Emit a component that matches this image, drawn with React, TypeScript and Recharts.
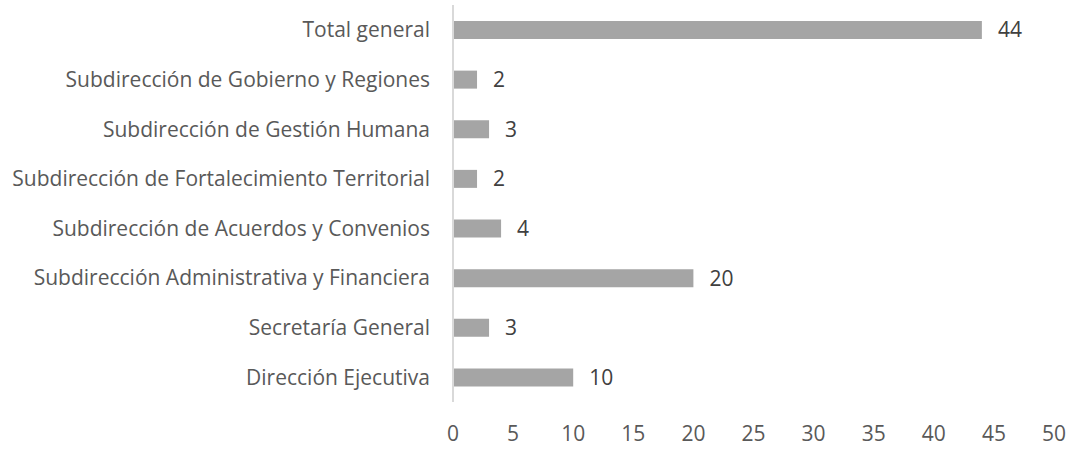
import React from "react";
import { BarChart, Bar, XAxis, YAxis, LabelList } from "recharts";

const categories = [
  "Total general",
  "Subdirección de Gobierno y Regiones",
  "Subdirección de Gestión Humana",
  "Subdirección de Fortalecimiento Territorial",
  "Subdirección de Acuerdos y Convenios",
  "Subdirección Administrativa y Financiera",
  "Secretaría General",
  "Dirección Ejecutiva",
];
const values = [44, 2, 3, 2, 4, 20, 3, 10];
const xTicks = [0, 5, 10, 15, 20, 25, 30, 35, 40, 45, 50];

const data = categories.map((name, i) => ({ name, value: values[i] }));

const FONT = "'Open Sans', sans-serif";

export default function App() {
  return (
    <div style={{ position: "absolute", left: 0, top: 0, background: "#fff" }}>
      <BarChart
        width={1073}
        height={451}
        data={data}
        layout="vertical"
        margin={{ top: 5, right: 19, bottom: 0, left: 0 }}
        barSize={18}
      >
        <XAxis
          type="number"
          domain={[0, 50]}
          ticks={xTicks}
          axisLine={false}
          tickLine={false}
          tickSize={0}
          tickMargin={24}
          height={49}
          interval={0}
          tick={{ fill: "#595959", fontSize: 21, fontFamily: FONT }}
        />
        <YAxis
          type="category"
          dataKey="name"
          width={453}
          axisLine={{ stroke: "#d9d9d9", strokeWidth: 2 }}
          tickLine={false}
          tickSize={0}
          tickMargin={23}
          interval={0}
          tick={{ fill: "#595959", fontSize: 21, fontFamily: FONT }}
        />
        <Bar dataKey="value" fill="#a5a5a5" isAnimationActive={false}>
          <LabelList
            dataKey="value"
            position="right"
            offset={16}
            fill="#404040"
            fontSize={21}
            fontFamily={FONT}
          />
        </Bar>
      </BarChart>
    </div>
  );
}
